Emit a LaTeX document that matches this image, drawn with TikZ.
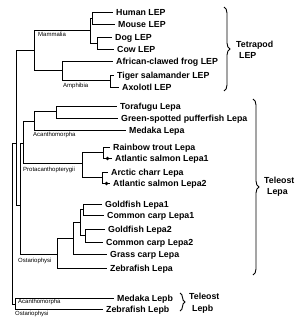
\documentclass[tikz,border=0pt]{standalone}
\usepackage{fontspec}
\setmainfont{Liberation Sans}
\usetikzlibrary{decorations.pathreplacing}

\begin{document}
\begin{tikzpicture}[
    x=1pt, y=-1pt,
    branch/.style={line width=0.9pt},
    leaf/.style={anchor=west, inner xsep=3pt, inner ysep=0pt, text height=6.3pt, text depth=0pt, font=\bfseries\fontsize{8.8}{10}\selectfont},
    clade/.style={anchor=west, inner sep=0pt, font=\fontsize{6}{7}\selectfont},
    salmondot/.style={circle, fill, inner sep=0pt, minimum size=3.6pt},
    group/.style={anchor=west, align=left, inner sep=0pt, font=\bfseries\fontsize{8.8}{11.5}\selectfont},
    bracket/.style={decorate, decoration={brace, amplitude=6pt}, line width=0.9pt}
]
\useasboundingbox (0,0) rectangle (300,324);

% inner nodes of the tree
\coordinate (root) at (12,143);
\coordinate (nA) at (16,143);
\coordinate (tet) at (34,50);
\coordinate (mam) at (90,30.5);
\coordinate (hm) at (92,18);
\coordinate (dc) at (97,43);
\coordinate (amp) at (62,70);
\coordinate (sal) at (110,80);
\coordinate (lepa) at (20,205);
\coordinate (ap) at (23,143);
\coordinate (acan) at (34,121);
\coordinate (tg) at (56,111.5);
\coordinate (prot) at (82,163);
\coordinate (s1) at (103,152);
\coordinate (s2) at (102,177);
\coordinate (ost) at (57,254);
\coordinate (cyp) at (73,238);
\coordinate (carp) at (80,222);
\coordinate (g1) at (83,209.5);
\coordinate (g2) at (85,235.5);
\coordinate (lepb) at (15,304);

% leaves
\node[leaf] (human) at (113,12) {Human LEP};
\node[leaf] (mouse) at (115,24) {Mouse LEP};
\node[leaf] (dog) at (112,37) {Dog LEP};
\node[leaf] (cow) at (114,49) {Cow LEP};
\node[leaf] (frog) at (113,61) {African-clawed frog LEP};
\node[leaf] (tiger) at (114,75) {Tiger salamander LEP};
\node[leaf] (axolotl) at (119,87) {Axolotl LEP};
\node[leaf] (torafugu) at (117,106) {Torafugu Lepa};
\node[leaf] (green) at (118,118) {Green-spotted pufferfish Lepa};
\node[leaf] (medakaA) at (126,130) {Medaka Lepa};
\node[leaf] (rainbow) at (110,147) {Rainbow trout Lepa};
\node[leaf] (atlA) at (112,158.5) {Atlantic salmon Lepa1};
\node[leaf] (arctic) at (108,172) {Arctic charr Lepa};
\node[leaf] (atlB) at (110,183.5) {Atlantic salmon Lepa2};
\node[leaf] (goldA) at (102,204) {Goldfish Lepa1};
\node[leaf] (carpA) at (104,215.5) {Common carp Lepa1};
\node[leaf] (goldB) at (105,229) {Goldfish Lepa2};
\node[leaf] (carpB) at (103,242) {Common carp Lepa2};
\node[leaf] (grass) at (107,254) {Grass carp Lepa};
\node[leaf] (zebraA) at (107,268) {Zebrafish Lepa};
\node[leaf] (medakaB) at (114,298) {Medaka Lepb};
\node[leaf] (zebraB) at (103,309) {Zebrafish Lepb};

\node[salmondot] (dotA) at (107.5,158.5) {};
\node[salmondot] (dotB) at (106.5,183.5) {};

% clade names
\node[clade] (lmam) at (38,34.5) {Mammalia};
\node[clade] (lamp) at (63,86) {Amphibia};
\node[clade] (lacanA) at (33,134.5) {Acanthomorpha};
\node[clade] (lprot) at (23,170) {Protacanthopterygii};
\node[clade] (lostA) at (18,261) {Ostariophysi};
\node[clade] (lacanB) at (18,301.5) {Acanthomorpha};
\node[clade] (lostB) at (15,314) {Ostariophysi};

% branches
\draw[branch] (root) |- (nA);
\draw[branch] (root) |- (lepb);
\draw[branch] (nA) |- (tet);
\draw[branch] (nA) |- (lepa);
\draw[branch] (tet) |- (mam);
\draw[branch] (tet) |- (amp);
\draw[branch] (mam) |- (hm);
\draw[branch] (mam) |- (dc);
\draw[branch] (hm) |- (human.west);
\draw[branch] (hm) |- (mouse.west);
\draw[branch] (dc) |- (dog.west);
\draw[branch] (dc) |- (cow.west);
\draw[branch] (amp) |- (frog.west);
\draw[branch] (amp) |- (sal);
\draw[branch] (sal) |- (tiger.west);
\draw[branch] (sal) |- (axolotl.west);
\draw[branch] (lepa) |- (ap);
\draw[branch] (lepa) |- (ost);
\draw[branch] (ap) |- (acan);
\draw[branch] (ap) |- (prot);
\draw[branch] (acan) |- (tg);
\draw[branch] (acan) |- (medakaA.west);
\draw[branch] (tg) |- (torafugu.west);
\draw[branch] (tg) |- (green.west);
\draw[branch] (prot) |- (s1);
\draw[branch] (prot) |- (s2);
\draw[branch] (s1) |- (rainbow.west);
\draw[branch] (s1) |- (atlA.west);
\draw[branch] (s2) |- (arctic.west);
\draw[branch] (s2) |- (atlB.west);
\draw[branch] (ost) |- (cyp);
\draw[branch] (ost) |- (zebraA.west);
\draw[branch] (cyp) |- (carp);
\draw[branch] (cyp) |- (grass.west);
\draw[branch] (carp) |- (g1);
\draw[branch] (carp) |- (g2);
\draw[branch] (g1) |- (goldA.west);
\draw[branch] (g1) |- (carpA.west);
\draw[branch] (g2) |- (goldB.west);
\draw[branch] (g2) |- (carpB.west);
\draw[branch] (lepb) |- (medakaB.west);
\draw[branch] (lepb) |- (zebraB.west);

% groups
\coordinate (tetTop) at (224,7);
\coordinate (tetBot) at (224,91);
\coordinate (lepaTop) at (253,99);
\coordinate (lepaBot) at (253,275);
\coordinate (lepbTop) at (180,293);
\coordinate (lepbBot) at (180,311);
\draw[bracket] (tetTop) -- (tetBot);
\draw[bracket] (lepaTop) -- (lepaBot);
\draw[bracket, decoration={amplitude=5pt}] (lepbTop) -- (lepbBot);
\node[group] (gtet) at (236,50) {Tetrapod\\\hspace*{3pt}LEP};
\node[group] (glepa) at (264,186.5) {Teleost\\\hspace*{3pt}Lepa};
\node[group] (glepb) at (189,303) {Teleost\\\hspace*{3pt}Lepb};
\end{tikzpicture}
\end{document}
